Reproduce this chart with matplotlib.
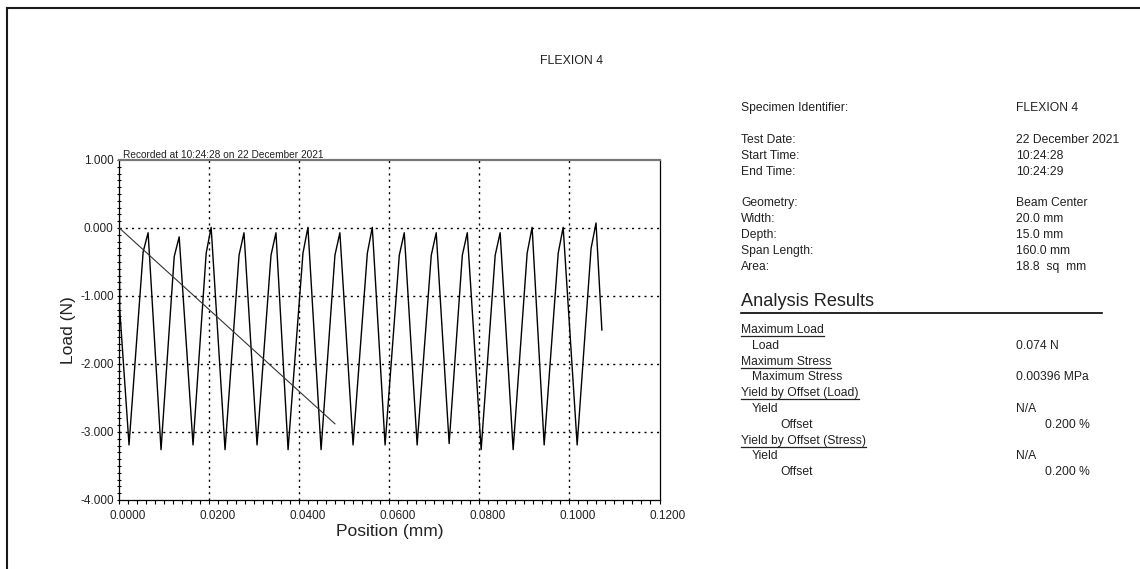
import matplotlib
matplotlib.use("Agg")
import matplotlib.pyplot as plt
import matplotlib.transforms as mtransforms
from matplotlib.lines import Line2D
from matplotlib.ticker import MultipleLocator

plt.rcParams['font.family'] = ['Liberation Sans', 'DejaVu Sans']

# Load / position trace: each cycle goes trough -> knee -> peak
start_pos = [0.0000, 0.0001]
start_load = [-0.20, -1.20]
trough_pos = [0.00216, 0.00927, 0.01638, 0.02349, 0.03060, 0.03749, 0.04482, 0.05193,
              0.05904, 0.06616, 0.07327, 0.08038, 0.08749, 0.09438, 0.10171]
trough_load = [-3.19, -3.26, -3.19, -3.26, -3.19, -3.26, -3.26, -3.19,
               -3.19, -3.19, -3.17, -3.26, -3.26, -3.19, -3.19]
knee_pos = [0.0053, 0.0122, 0.0193, 0.0266, 0.0337, 0.0408, 0.0479, 0.0551,
            0.0622, 0.0693, 0.0762, 0.0835, 0.0906, 0.0975, 0.1048]
knee_load = [-0.35, -0.42, -0.37, -0.40, -0.40, -0.37, -0.40, -0.37,
             -0.40, -0.40, -0.40, -0.40, -0.37, -0.37, -0.30]
peak_pos = [0.0064, 0.0133, 0.0204, 0.0277, 0.0348, 0.0419, 0.0490, 0.0562,
            0.0633, 0.0704, 0.0773, 0.0846, 0.0917, 0.0986, 0.1059]
peak_load = [-0.07, -0.13, 0.01, -0.07, -0.07, 0.01, -0.07, 0.01,
             -0.07, -0.07, -0.07, -0.07, 0.01, 0.01, 0.074]
end_pos = [0.1072]
end_load = [-1.50]

# offset / modulus line
offset_pos = [0.0, 0.0479]
offset_load = [0.0, -2.88]

x_ticks = [0.0, 0.02, 0.04, 0.06, 0.08, 0.10, 0.12]
y_ticks = [1.0, 0.0, -1.0, -2.0, -3.0, -4.0]

spec_labels = ["Specimen Identifier:", "Test Date:", "Start Time:", "End Time:",
               "Geometry:", "Width:", "Depth:", "Span Length:", "Area:"]
spec_values = ["FLEXION 4", "22 December 2021", "10:24:28", "10:24:29",
               "Beam Center", "20.0 mm", "15.0 mm", "160.0 mm", "18.8  sq  mm"]
spec_rows_y = [108, 140, 156, 172, 203, 219, 235, 251, 267]

# (text, x, y, underlined)
result_labels = [("Maximum Load", 741, 330, True), ("Load", 752, 346, False),
                 ("Maximum Stress", 741, 362, True), ("Maximum Stress", 752, 377, False),
                 ("Yield by Offset (Load)", 741, 393, True), ("Yield", 752, 409, False),
                 ("Offset", 780, 425, False),
                 ("Yield by Offset (Stress)", 741, 441, True), ("Yield", 752, 456, False),
                 ("Offset", 780, 472, False)]
# (text, x, y, align)
result_values = [("0.074 N", 1016, 346, 'left'), ("0.00396 MPa", 1016, 377, 'left'),
                 ("N/A", 1016, 409, 'left'), ("0.200 %", 1090, 425, 'right'),
                 ("N/A", 1016, 456, 'left'), ("0.200 %", 1090, 472, 'right')]

W, H = 1140, 569
fig = plt.figure(figsize=(W / 100, H / 100), dpi=100)


def fx(px):
    return px / W


def fy(py):
    return 1 - py / H


# build the trace
pos = list(start_pos)
load = list(start_load)
for i in range(len(peak_pos)):
    pos += [trough_pos[i], knee_pos[i], peak_pos[i]]
    load += [trough_load[i], knee_load[i], peak_load[i]]
pos += end_pos
load += end_load

ax = fig.add_axes([fx(119.3), fy(500), fx(659.5) - fx(119.3), fy(160) - fy(500)])
ax.plot(pos, load, color='black', lw=1.0, zorder=3)
ax.plot(offset_pos, offset_load, color='#333333', lw=0.8, zorder=3)

ax.set_xlim(x_ticks[0], x_ticks[-1])
ax.set_ylim(y_ticks[-1], y_ticks[0])
ax.set_xticks(x_ticks)
ax.set_yticks(y_ticks)
ax.set_xticklabels(["%.4f" % v for v in x_ticks])
ax.set_yticklabels(["%.3f" % v for v in y_ticks])
ax.xaxis.set_minor_locator(MultipleLocator(0.002))
ax.yaxis.set_minor_locator(MultipleLocator(0.1))

for v in x_ticks[1:-1]:
    ax.axvline(v, color='black', lw=1.0, linestyle=(0, (1.5, 3)), zorder=1)
for v in y_ticks[1:-1]:
    ax.axhline(v, color='black', lw=1.0, linestyle=(0, (1.5, 3)), zorder=1)

ax.tick_params(axis='x', which='both', direction='out', length=3, width=0.8,
               labelsize=8.5, pad=4.5, colors='black')
ax.tick_params(axis='y', which='both', direction='inout', length=3, width=0.8,
               labelsize=8.5, pad=2.5, colors='black')
ax.tick_params(axis='both', labelcolor='#222222')

# tick labels in this report sit a little to the right of their ticks
offset = mtransforms.ScaledTranslation(8.5 / 100, 0, fig.dpi_scale_trans)
for label in ax.xaxis.get_majorticklabels():
    label.set_transform(label.get_transform() + offset)

ax.spines['top'].set_color('#777777')
ax.spines['top'].set_linewidth(1.6)
for s in ['left', 'bottom', 'right']:
    ax.spines[s].set_color('black')
    ax.spines[s].set_linewidth(0.9)

ax.set_xlabel("Position (mm)", fontsize=12.5, color='#222222')
ax.xaxis.set_label_coords(0.5, -0.071)
ax.set_ylabel("Load (N)", fontsize=12.5, color='#222222')
ax.yaxis.set_label_coords(-0.080, 0.5)

fig.text(fx(572), fy(61), "FLEXION 4", fontsize=8.9, ha='center', va='center', color='#222222')
fig.text(fx(123), fy(155), "Recorded at 10:24:28 on 22 December 2021", fontsize=7.3,
         ha='left', va='center', color='#222222')

for lab, val, y in zip(spec_labels, spec_values, spec_rows_y):
    fig.text(fx(741), fy(y), lab, fontsize=8.7, ha='left', va='center', color='#222222')
    fig.text(fx(1016), fy(y), val, fontsize=8.7, ha='left', va='center', color='#222222')

fig.text(fx(741), fy(301), "Analysis Results", fontsize=13.1, ha='left', va='center', color='#222222')
fig.add_artist(Line2D([fx(741), fx(1102)], [fy(313), fy(313)], color='black', lw=1.2))

underlined = []
for txt, x, y, ul in result_labels:
    t = fig.text(fx(x), fy(y), txt, fontsize=8.7, ha='left', va='center', color='#222222')
    if ul:
        underlined.append((t, y))
for txt, x, y, al in result_values:
    fig.text(fx(x), fy(y), txt, fontsize=8.7, ha=al, va='center', color='#222222')

# underline the section headings
fig.canvas.draw()
renderer = fig.canvas.get_renderer()
for t, y in underlined:
    bb = t.get_window_extent(renderer)
    fig.add_artist(Line2D([bb.x0 / W, bb.x1 / W], [fy(y + 6), fy(y + 6)], color='#222222', lw=0.9))

# page border
fig.add_artist(Line2D([fx(6.5), 1.0], [fy(8), fy(8)], color='#1a1a1a', lw=1.5))
fig.add_artist(Line2D([fx(6.5), fx(6.5)], [fy(8), 0.0], color='#1a1a1a', lw=1.5))

fig.savefig("out.png", dpi=100)
